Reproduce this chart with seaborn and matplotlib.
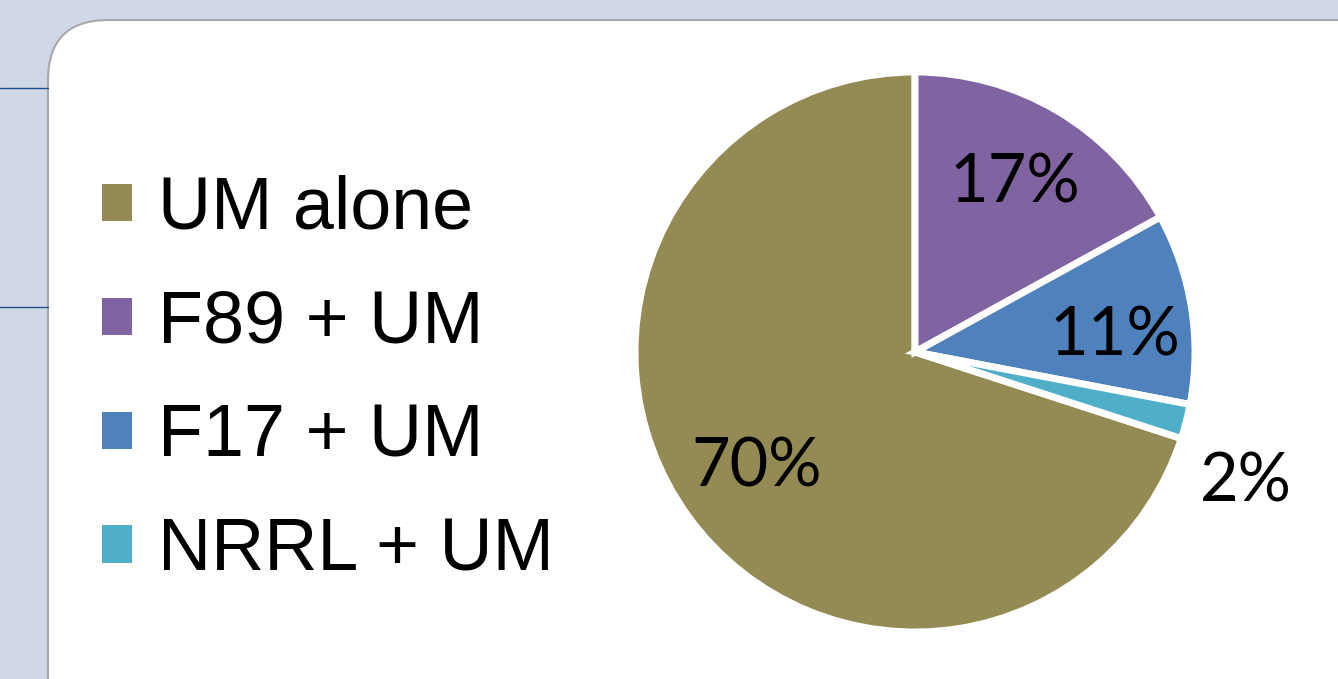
import matplotlib
matplotlib.use("Agg")
import matplotlib.pyplot as plt
from matplotlib.patches import FancyBboxPatch
from matplotlib.lines import Line2D
import seaborn as sns

# Share of treatments
categories = ["UM alone", "F89 + UM", "F17 + UM", "NRRL + UM"]
shares = [70, 17, 11, 2]
colors = ["#948A54", "#8064A2", "#4F81BD", "#4FAFC8"]

sns.set_theme(style="white")
palette = sns.color_palette(colors)

W, H, DPI = 1338, 679, 100
fig = plt.figure(figsize=(W / DPI, H / DPI), dpi=DPI)
fig.patch.set_facecolor("#D0D8E8")

# white rounded slide panel behind everything
panel = FancyBboxPatch((48 / W, -0.2), 1.2, (H - 20) / H + 0.2,
                       boxstyle="round,pad=0,rounding_size=0.045",
                       transform=fig.transFigure, facecolor="white",
                       edgecolor="#A8A8A8", linewidth=1.5, mutation_aspect=W / H,
                       zorder=-10)
fig.add_artist(panel)
for ypix in (88, 307):
    fig.add_artist(Line2D([0, 48 / W], [1 - ypix / H, 1 - ypix / H],
                          transform=fig.transFigure, color="#1F4E8C", lw=1,
                          zorder=-9))

# pie axes: centre (915, 352), radius 280 px
cx, cy, r = 915, 352, 280
ax = fig.add_axes([(cx - r) / W, (H - cy - r) / H, 2 * r / W, 2 * r / H])
ax.set_zorder(5)
ax.patch.set_alpha(0)
wedges, texts, autotexts = ax.pie(
    shares, colors=palette, startangle=342, counterclock=False,
    autopct="%d%%", pctdistance=0.70,
    wedgeprops=dict(edgecolor="white", linewidth=5),
    textprops=dict(fontsize=48, family="Lato", color="black"))
ax.set_xlim(-1, 1)
ax.set_ylim(-1, 1)
ax.set_aspect("equal")
ax.axis("off")

# small slice label sits outside the pie
autotexts[2].set_position((0.715, 0.055))
autotexts[3].set_position((1.18, -0.465))
for t in autotexts:
    t.set_clip_on(False)

leg = fig.legend(wedges, categories, loc="center left",
                 bbox_to_anchor=(36 / W, 1 - 380 / H),
                 frameon=False, handlelength=0.4, handleheight=0.4,
                 handletextpad=0.36, labelspacing=0.61,
                 prop=dict(family="Liberation Sans", size=53))
for txt in leg.get_texts():
    txt.set_color("black")
for h in leg.legend_handles:
    h.set_linewidth(0)

fig.savefig("out.png", dpi=DPI, facecolor=fig.get_facecolor())
